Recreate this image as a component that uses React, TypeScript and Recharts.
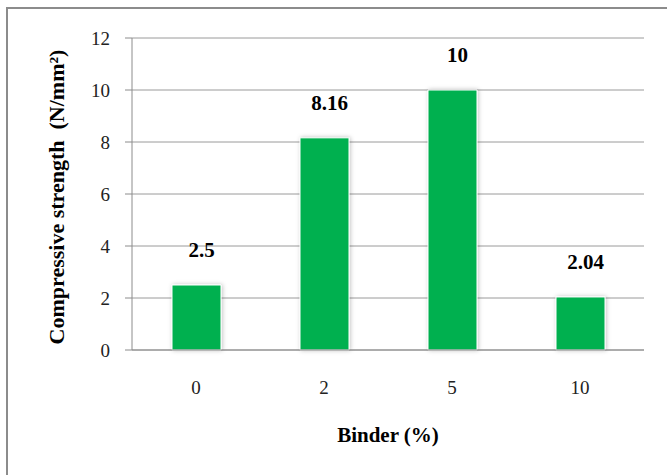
import React from 'react';
import { BarChart, Bar, XAxis, YAxis, CartesianGrid, LabelList, Label } from 'recharts';

const categories = ['0', '2', '5', '10'];
const strengths = [2.5, 8.16, 10, 2.04];
const yTicks = [0, 2, 4, 6, 8, 10, 12];

const data = categories.map((c, i) => ({ binder: c, strength: strengths[i] }));

const FONT = '"Liberation Serif", "Times New Roman", serif';

const YTitle = (props: any) => {
  const vb = props.viewBox || {};
  const cx = vb.x + 56;
  const cy = vb.y + vb.height / 2 + 3;
  return (
    <text
      x={cx}
      y={cy}
      transform={`rotate(-90, ${cx}, ${cy})`}
      textAnchor="middle"
      dominantBaseline="central"
      fontFamily={FONT}
      fontWeight="bold"
      fontSize={22}
      fill="#000"
    >
      Compressive strength{'\u00a0\u00a0'}(N/mm²)
    </text>
  );
};

const XTitle = (props: any) => {
  const vb = props.viewBox || {};
  return (
    <text
      x={vb.x + vb.width / 2}
      y={442}
      textAnchor="middle"
      fontFamily={FONT}
      fontWeight="bold"
      fontSize={21}
      fill="#000"
    >
      Binder (%)
    </text>
  );
};

export default function App() {
  return (
    <div style={{ position: 'absolute', left: 0, top: 0, width: 667, height: 475, background: '#fff', overflow: 'hidden' }}>
      <div
        style={{
          position: 'absolute',
          left: 6,
          top: 7,
          width: 700,
          height: 500,
          borderLeft: '2px solid #8c8c8c',
          borderTop: '2px solid #8c8c8c',
        }}
      />
      <div style={{ position: 'absolute', left: 0, top: 0 }}>
        <BarChart
          width={667}
          height={475}
          data={data}
          margin={{ top: 38, right: 23, left: 0, bottom: 0 }}
          barSize={49}
        >
          <defs>
            <filter id="barShadow" x="-30%" y="-10%" width="160%" height="120%">
              <feDropShadow dx="1" dy="0" stdDeviation="2" floodColor="#000" floodOpacity="0.25" />
            </filter>
          </defs>
          <CartesianGrid vertical={false} stroke="#9a9a9a" strokeWidth={1} />
          <XAxis
            dataKey="binder"
            height={125}
            axisLine={{ stroke: '#8c8c8c' }}
            tickLine={false}
            tickSize={0}
            tickMargin={31}
            tick={{ fontFamily: FONT, fontSize: 19, fill: '#222' }}
          >
            <Label content={<XTitle />} />
          </XAxis>
          <YAxis
            width={132}
            domain={[0, 12]}
            ticks={yTicks}
            interval={0}
            axisLine={{ stroke: '#8c8c8c' }}
            tickLine={{ stroke: '#8c8c8c' }}
            tickSize={7}
            tickMargin={15}
            tick={{ fontFamily: FONT, fontSize: 19, fill: '#222' }}
          >
            <Label content={<YTitle />} />
          </YAxis>
          <Bar
            dataKey="strength"
            fill="#00B050"
            stroke="#ffffff"
            strokeWidth={1}
            filter="url(#barShadow)"
            isAnimationActive={false}
          >
            <LabelList
              dataKey="strength"
              position="top"
              offset={28}
              dx={5}
              style={{ fontFamily: FONT, fontWeight: 'bold', fontSize: 21, fill: '#000' }}
            />
          </Bar>
        </BarChart>
      </div>
    </div>
  );
}
